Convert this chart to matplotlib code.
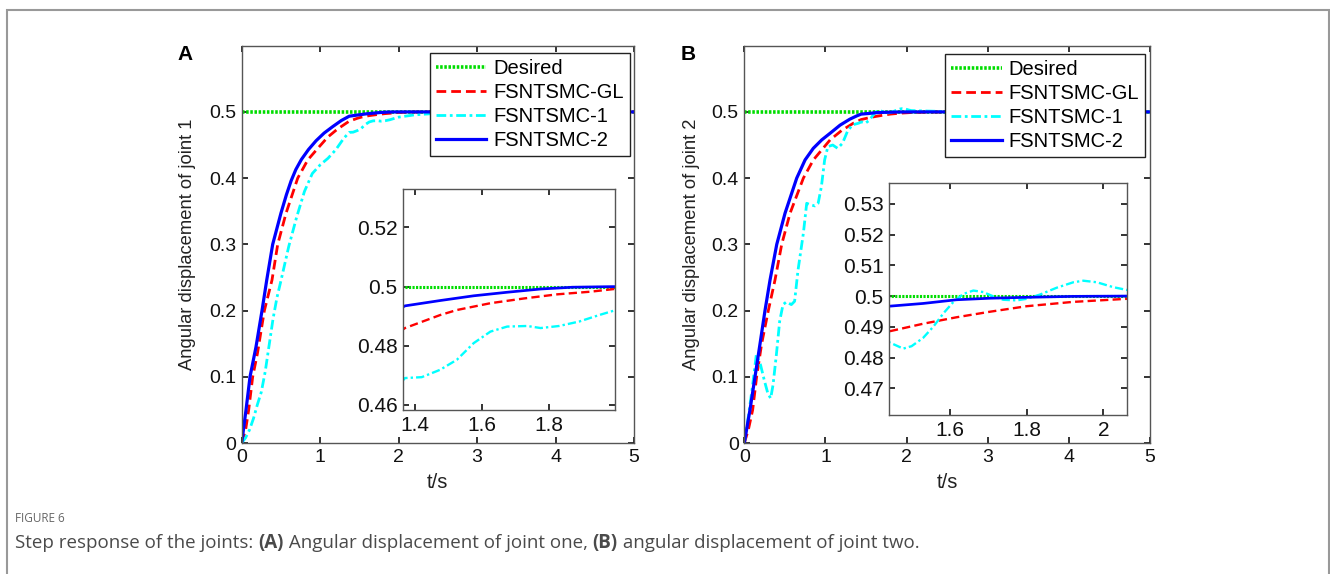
import matplotlib
matplotlib.use('Agg')
import matplotlib.pyplot as plt
from matplotlib.patches import Rectangle

plt.rcParams['font.family'] = ['Liberation Sans', 'DejaVu Sans']

# ---------------- data ----------------
labels = ['Desired', 'FSNTSMC-GL', 'FSNTSMC-1', 'FSNTSMC-2']
t_desired = [0, 5]
v_desired = [0.5, 0.5]

# joint 1
t1_gl = [0, 0.05, 0.089, 0.14, 0.2, 0.289, 0.386, 0.459, 0.565, 0.714, 0.842, 0.97,
         1.097, 1.22, 1.37, 1.475, 1.525, 1.625, 1.725, 1.825, 1.925, 1.995, 2.3, 5]
v1_gl = [0, 0.02, 0.05, 0.1, 0.135, 0.2, 0.246, 0.3, 0.347, 0.4, 0.4275, 0.445,
         0.462, 0.474, 0.486, 0.4904, 0.4921, 0.4944, 0.496, 0.4974, 0.4983, 0.4992, 0.4999, 0.5]
t1_c1 = [0, 0.05, 0.1, 0.15, 0.2, 0.25, 0.3, 0.35, 0.4, 0.45, 0.5, 0.6, 0.7, 0.8, 0.9,
         1.0, 1.1, 1.2, 1.3, 1.37, 1.42, 1.475, 1.525, 1.575, 1.625, 1.675, 1.735, 1.775,
         1.83, 1.89, 1.95, 2.0, 2.2, 2.5, 3.0, 3.5, 5]
v1_c1 = [0, 0.008, 0.02, 0.037, 0.058, 0.077, 0.108, 0.148, 0.188, 0.22, 0.245, 0.297,
         0.341, 0.38, 0.407, 0.42, 0.43, 0.443, 0.46, 0.4691, 0.4694, 0.4719, 0.4753,
         0.4809, 0.4848, 0.4865, 0.4867, 0.486, 0.4867, 0.4882, 0.4904, 0.4921, 0.4955,
         0.498, 0.4995, 0.5, 0.5]
t1_c2 = [0, 0.055, 0.106, 0.182, 0.259, 0.319, 0.395, 0.5, 0.57, 0.63, 0.69, 0.76,
         0.85, 0.948, 1.05, 1.16, 1.27, 1.37, 1.475, 1.575, 1.675, 1.775, 1.87, 1.99, 5]
v1_c2 = [0, 0.05, 0.1, 0.145, 0.2, 0.246, 0.3, 0.347, 0.375, 0.396, 0.413, 0.428,
         0.443, 0.4565, 0.468, 0.4778, 0.487, 0.4935, 0.4953, 0.4969, 0.4981, 0.4992,
         0.4998, 0.5, 0.5]

# joint 2
t2_gl = [0, 0.05, 0.103, 0.152, 0.214, 0.296, 0.378, 0.461, 0.564, 0.728, 0.851, 1.057,
         1.2, 1.345, 1.441, 1.53, 1.617, 1.704, 1.8, 1.92, 2.06, 2.3, 5]
v2_gl = [0, 0.02, 0.05, 0.1, 0.15, 0.2, 0.246, 0.3, 0.347, 0.4, 0.4275, 0.4577,
         0.472, 0.483, 0.4885, 0.491, 0.4931, 0.4949, 0.4967, 0.4981, 0.4991, 0.4998, 0.5]
t2_c1 = [0, 0.05, 0.1, 0.148, 0.2, 0.25, 0.29, 0.325, 0.354, 0.395, 0.436, 0.477, 0.518,
         0.58, 0.62, 0.662, 0.728, 0.769, 0.81, 0.87, 0.91, 0.95, 0.99, 1.03, 1.09, 1.15,
         1.21, 1.27, 1.33, 1.41, 1.441, 1.478, 1.5, 1.53, 1.557, 1.583, 1.609, 1.635,
         1.661, 1.687, 1.713, 1.739, 1.774, 1.8, 1.835, 1.878, 1.922, 1.948, 1.983,
         2.026, 2.061, 2.2, 2.5, 3.0, 5]
v2_c1 = [0, 0.04, 0.085, 0.133, 0.118, 0.093, 0.075, 0.0675, 0.0876, 0.133, 0.184,
         0.209, 0.213, 0.209, 0.214, 0.261, 0.3167, 0.362, 0.36, 0.358, 0.362, 0.387,
         0.4275, 0.4476, 0.45, 0.445, 0.4526, 0.4703, 0.4803, 0.483, 0.485, 0.4829,
         0.4837, 0.4864, 0.4901, 0.4944, 0.4981, 0.5007, 0.5018, 0.5013, 0.4999, 0.4988,
         0.4986, 0.4991, 0.5005, 0.5027, 0.5045, 0.505, 0.5045, 0.5029, 0.502, 0.5015,
         0.5005, 0.5, 0.5]
t2_c2 = [0, 0.07, 0.132, 0.194, 0.255, 0.317, 0.4, 0.502, 0.646, 0.749, 0.85, 0.954,
         1.07, 1.18, 1.3, 1.386, 1.441, 1.53, 1.617, 1.704, 1.8, 1.92, 2.06, 5]
v2_c2 = [0, 0.05, 0.1, 0.15, 0.2, 0.246, 0.3, 0.347, 0.4, 0.4275, 0.445, 0.4577,
         0.469, 0.48, 0.489, 0.494, 0.4967, 0.4976, 0.4988, 0.4993, 0.4996, 0.4999, 0.5, 0.5]

main_yticks = [0, 0.1, 0.2, 0.3, 0.4, 0.5]
main_ylabels = ['0', '0.1', '0.2', '0.3', '0.4', '0.5']
main_xticks = [0, 1, 2, 3, 4, 5]
ins1_yticks = [0.46, 0.48, 0.5, 0.52]
ins1_ylabels = ['0.46', '0.48', '0.5', '0.52']
ins1_xticks = [1.4, 1.6, 1.8]
ins2_yticks = [0.47, 0.48, 0.49, 0.5, 0.51, 0.52, 0.53]
ins2_ylabels = ['0.47', '0.48', '0.49', '0.5', '0.51', '0.52', '0.53']
ins2_xticks = [1.6, 1.8, 2.0]
ins2_xlabels = ['1.6', '1.8', '2']

caption_head = 'FIGURE 6'
caption_parts = [('Step response of the joints: ', 'normal'), ('(A)', 'bold'),
                 (' Angular displacement of joint one, ', 'normal'), ('(B)', 'bold'),
                 (' angular displacement of joint two.', 'normal')]

# ---------------- styles ----------------
GREEN, RED, CYAN, BLUE = '#00dd00', '#ff0000', '#00ffff', '#0000ff'


def draw_curves(ax, series, lw=1.0):
    (tg, vg), (tc1, vc1), (tc2, vc2) = series
    ax.plot(t_desired, v_desired, color=GREEN, lw=2.6 * lw, linestyle=(0, (0.7, 0.45)),
            label=labels[0])
    ax.plot(tg, vg, color=RED, lw=2.0 * lw, linestyle=(0, (3.5, 1.8)), label=labels[1])
    ax.plot(tc1, vc1, color=CYAN, lw=2.0 * lw, linestyle=(0, (3.5, 1.3, 1.0, 1.3)),
            label=labels[2])
    ax.plot(tc2, vc2, color=BLUE, lw=2.3 * lw, label=labels[3])


def style(ax, fs):
    ax.tick_params(direction='in', top=True, right=True, length=4, width=1.2,
                   labelsize=fs, colors='#111111', pad=4)
    for s in ax.spines.values():
        s.set_color('#555555')
        s.set_linewidth(1.0)


fig = plt.figure(figsize=(13.3, 5.74), dpi=100)

W, H = 1330, 574
panels = [
    dict(main=(241.7, 634, 45.7, 443), inset=(403, 615, 189, 410),
         data=((t1_gl, v1_gl), (t1_c1, v1_c1), (t1_c2, v1_c2)),
         ylabel='Angular displacement of joint 1', tag='A', tagx=185,
         ixlim=(1.364, 1.997), iylim=(0.4583, 0.533),
         iyt=(ins1_yticks, ins1_ylabels), ixt=(ins1_xticks, ['1.4', '1.6', '1.8']),
         leg=(0.99, 0.981), ylx=-0.117),
    dict(main=(744.3, 1150, 45.7, 443), inset=(889, 1126.7, 183.3, 415),
         data=((t2_gl, v2_gl), (t2_c1, v2_c1), (t2_c2, v2_c2)),
         ylabel='Angular displacement of joint 2', tag='B', tagx=688,
         ixlim=(1.441, 2.061), iylim=(0.4613, 0.5367),
         iyt=(ins2_yticks, ins2_ylabels), ixt=(ins2_xticks, ins2_xlabels),
         leg=(0.988, 0.979), ylx=-0.109),
]


def box(x0, x1, y0, y1):
    return [x0 / W, 1 - y1 / H, (x1 - x0) / W, (y1 - y0) / H]


for p in panels:
    ax = fig.add_axes(box(*p['main']))
    draw_curves(ax, p['data'])
    ax.set_xlim(0, 5)
    ax.set_ylim(0, 0.6)
    ax.set_xticks(main_xticks)
    ax.set_xticklabels([str(x) for x in main_xticks])
    ax.set_yticks(main_yticks)
    ax.set_yticklabels(main_ylabels)
    style(ax, 14)
    ax.set_ylabel(p['ylabel'], fontsize=13.2, color='#222222')
    ax.yaxis.set_label_coords(p['ylx'], 0.5)
    ax.set_xlabel('t/s', fontsize=14.5, color='#222222')
    ax.xaxis.set_label_coords(0.5, -0.075)
    leg = ax.legend(loc='upper right', bbox_to_anchor=p['leg'], borderaxespad=0,
                    fontsize=14.5, fancybox=False, framealpha=1, edgecolor='#222222',
                    handlelength=2.5, handletextpad=0.35, labelspacing=0.25,
                    borderpad=0.3)
    leg.get_frame().set_linewidth(1.0)
    leg.set_zorder(5)

    ins = fig.add_axes(box(*p['inset']))
    draw_curves(ins, p['data'], lw=0.85)
    ins.set_xlim(*p['ixlim'])
    ins.set_ylim(*p['iylim'])
    ins.set_yticks(p['iyt'][0])
    ins.set_yticklabels(p['iyt'][1])
    ins.set_xticks(p['ixt'][0])
    ins.set_xticklabels(p['ixt'][1])
    style(ins, 15)
    ins.set_zorder(6)

    fig.text(p['tagx'] / W, 1 - 55 / H, p['tag'], fontsize=15, fontweight='bold',
             ha='center', va='center')

# caption
fig.text(15 / W, 1 - 519 / H, caption_head, fontsize=8.5, color='#666666',
         family=['Open Sans', 'DejaVu Sans'], va='center')
renderer = fig.canvas.get_renderer()
x = 15 / W
for s, w in caption_parts:
    t = fig.text(x, 1 - 543 / H, s, fontsize=13.5, fontweight=w, color='#4a4a4a',
                 family=['Open Sans', 'DejaVu Sans'], va='center')
    bb = t.get_window_extent(renderer=renderer)
    x = bb.x1 / fig.bbox.width

# outer frame
fig.patches.append(Rectangle((7 / W, -0.05), 1322 / W, 1 - 10 / H + 0.05,
                             transform=fig.transFigure, fill=False,
                             edgecolor='#999999', lw=1.5))

fig.savefig('out.png', dpi=100)
